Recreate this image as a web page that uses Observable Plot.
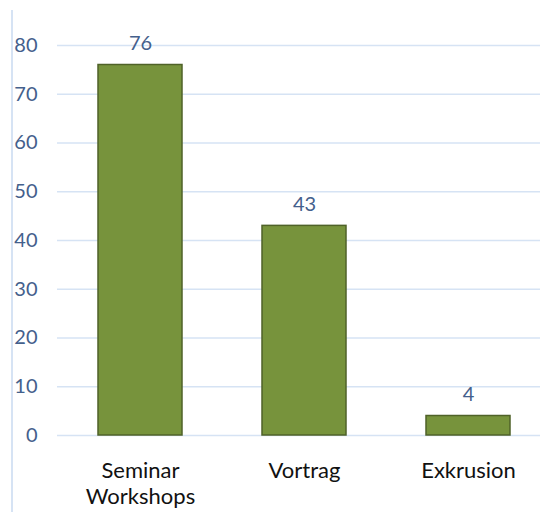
<!DOCTYPE html>
<html><head><meta charset="utf-8">
<script src="https://cdn.jsdelivr.net/npm/d3@7"></script>
<script src="https://cdn.jsdelivr.net/npm/@observablehq/plot@0.6"></script>
<style>
body{margin:0;background:#fff;}
#wrap{position:relative;width:540px;height:512px;overflow:hidden;}
#vline{position:absolute;left:11px;top:10px;bottom:0;width:2px;background:#D6E3F4;}
</style>
</head><body>
<div id="wrap"><div id="vline"></div></div>
<script>
const categories = ["Seminar\nWorkshops", "Vortrag", "Exkrusion"];
const values = [76, 43, 4];
const yTicks = [0, 10, 20, 30, 40, 50, 60, 70, 80];

const data = categories.map((c, i) => ({cat: c, value: values[i]}));
const blue = "#44608C";

const chart = Plot.plot({
  width: 540,
  height: 512,
  marginLeft: 57,
  marginRight: 0,
  marginTop: 45,
  marginBottom: 77,
  style: {fontFamily: "Lato, 'Open Sans', sans-serif", background: "transparent", overflow: "hidden"},
  x: {domain: categories, range: [57, 550], paddingInner: 0.49, paddingOuter: 0.245, label: null},
  y: {domain: [0, 80], label: null},
  marks: [
    Plot.ruleY(yTicks, {stroke: "#D6E3F4", strokeWidth: 1.5}),
    Plot.barY(data, {x: "cat", y: "value", fill: "#77933C", stroke: "#4F6228", strokeWidth: 1.5}),
    Plot.text(data, {x: "cat", y: "value", text: d => String(d.value), dy: -21, fill: blue, fontSize: 20}),
    Plot.axisY(yTicks, {tickSize: 0, tickPadding: 0, dx: -20, fill: blue, fontSize: 20, textAnchor: "end", label: null}),
    Plot.axisX({tickSize: 0, tickPadding: 23, fill: "#111", fontSize: 22, lineHeight: 1.22, label: null})
  ]
});
chart.style.position = "absolute";
chart.style.left = "0";
chart.style.top = "0";
document.getElementById("wrap").appendChild(chart);
</script>
</body></html>
